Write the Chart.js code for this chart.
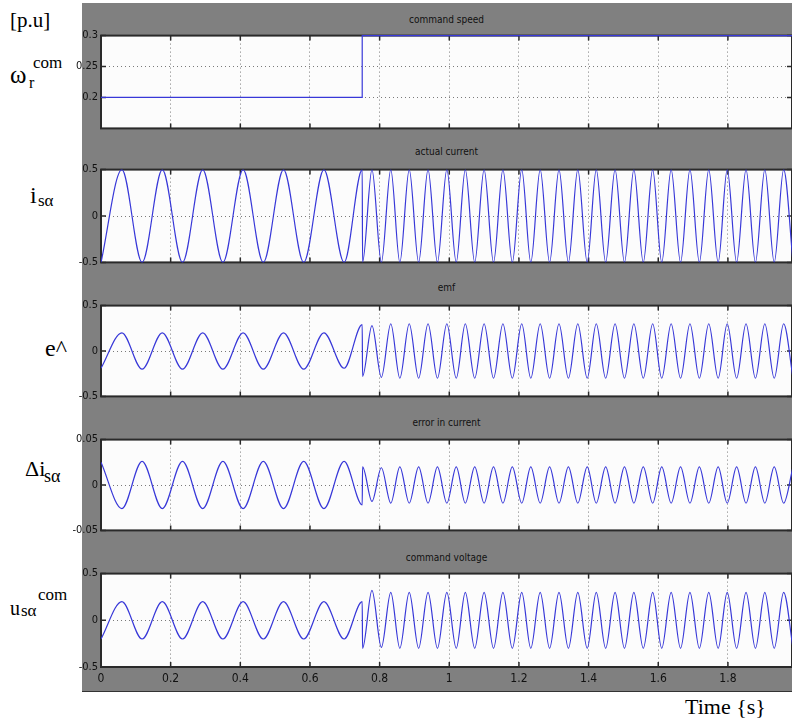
<!DOCTYPE html>
<html lang="en">
<head>
<meta charset="UTF-8">
<title>Scope traces</title>
<script src="https://cdn.jsdelivr.net/npm/chart.js"></script>
<style>
  body { margin: 0; width: 792px; height: 722px; position: relative; overflow: hidden; background: #fff; }
  #fig { position: absolute; left: 82px; top: 3px; width: 710px; height: 688px; background: #808080; border-bottom: 1px solid #333; }
  canvas { position: absolute; }
  .ttl { position: absolute; left: 101px; width: 691px; text-align: center; line-height: 12px;
         font: 10px 'Liberation Sans Narrow', 'DejaVu Sans Condensed', sans-serif; color: #111; }
  .lab { position: absolute; line-height: 1; white-space: nowrap; color: #000;
         font-family: 'Liberation Serif', 'Times New Roman', serif; }
</style>
</head>
<body>
<div id="fig"></div>

<!-- left hand labels -->
<span class="lab" style="left:10px;top:10px;font-size:21px">[p.u]</span>
<span class="lab" style="left:10px;top:62px;font-size:25px">ω</span>
<span class="lab" style="left:29px;top:75px;font-size:16px">r</span>
<span class="lab" style="left:33px;top:54px;font-size:17px">com</span>
<span class="lab" style="left:30px;top:183px;font-size:24px">i</span>
<span class="lab" style="left:38px;top:192px;font-size:17px">sα</span>
<span class="lab" style="left:45px;top:336px;font-size:24px">e^</span>
<span class="lab" style="left:25px;top:458px;font-size:22px">Δi</span>
<span class="lab" style="left:44px;top:467px;font-size:18px">sα</span>
<span class="lab" style="left:10px;top:598px;font-size:20px">u</span>
<span class="lab" style="left:21px;top:602px;font-size:17px">sα</span>
<span class="lab" style="left:38px;top:586px;font-size:17px">com</span>
<span class="lab" style="left:685px;top:696px;font-size:22px">Time {s}</span>

<script>
// ---- data ----
const xTicks = [0, 0.2, 0.4, 0.6, 0.8, 1, 1.2, 1.4, 1.6, 1.8];
const xMax = 1.984;

const titles = ['command speed', 'actual current', 'emf', 'error in current', 'command voltage'];

// speed command, step at 0.75 s
const tSpeed = [0, 0.75, 0.75, 1.99];
const speedCmd = [0.2, 0.2, 0.3, 0.3];

// times of the peaks / troughs of the waves (same for all four traces)
const tExt = [
  0, 0.060, 0.118, 0.176, 0.234, 0.292, 0.350, 0.408, 0.466, 0.524, 0.582, 0.640, 0.698, 0.750,
  0.751, 0.778, 0.805, 0.832, 0.858, 0.885, 0.912, 0.939, 0.966, 0.993,
  1.020, 1.046, 1.073, 1.100, 1.127, 1.154, 1.181, 1.208, 1.234, 1.261,
  1.288, 1.315, 1.342, 1.369, 1.396, 1.422, 1.449, 1.476, 1.503, 1.530,
  1.557, 1.584, 1.610, 1.637, 1.664, 1.691, 1.718, 1.745, 1.772, 1.798,
  1.825, 1.852, 1.879, 1.906, 1.933, 1.960, 1.987
];

const current = [
  -0.5, 0.5, -0.5, 0.5, -0.5, 0.5, -0.5, 0.5, -0.5, 0.5, -0.5, 0.5, -0.5, 0.5,
  -0.5, 0.5, -0.5, 0.5, -0.5, 0.5, -0.5, 0.5, -0.5, 0.5,
  -0.5, 0.5, -0.5, 0.5, -0.5, 0.5, -0.5, 0.5, -0.5, 0.5,
  -0.5, 0.5, -0.5, 0.5, -0.5, 0.5, -0.5, 0.5, -0.5, 0.5,
  -0.5, 0.5, -0.5, 0.5, -0.5, 0.5, -0.5, 0.5, -0.5, 0.5,
  -0.5, 0.5, -0.5, 0.5, -0.5, 0.5, -0.5
];

const emf = [
  -0.19, 0.2, -0.2, 0.2, -0.2, 0.2, -0.2, 0.2, -0.2, 0.2, -0.2, 0.2, -0.19, 0.29,
  -0.28, 0.28, -0.29, 0.3, -0.3, 0.3, -0.3, 0.3, -0.3, 0.3,
  -0.3, 0.3, -0.3, 0.3, -0.3, 0.3, -0.3, 0.3, -0.3, 0.3,
  -0.3, 0.3, -0.3, 0.3, -0.3, 0.3, -0.3, 0.3, -0.3, 0.3,
  -0.3, 0.3, -0.3, 0.3, -0.3, 0.3, -0.3, 0.3, -0.3, 0.3,
  -0.3, 0.3, -0.3, 0.3, -0.3, 0.3, -0.3
];

const errCur = [
  0.025, -0.026, 0.026, -0.026, 0.026, -0.026, 0.026, -0.026, 0.026, -0.026, 0.026, -0.026, 0.026, -0.022,
  0.02, -0.018, 0.019, -0.02, 0.02, -0.02, 0.02, -0.02, 0.02, -0.02,
  0.02, -0.02, 0.02, -0.02, 0.02, -0.02, 0.02, -0.02, 0.02, -0.02,
  0.02, -0.02, 0.02, -0.02, 0.02, -0.02, 0.02, -0.02, 0.02, -0.02,
  0.02, -0.02, 0.02, -0.02, 0.02, -0.02, 0.02, -0.02, 0.02, -0.02,
  0.02, -0.02, 0.02, -0.02, 0.02, -0.02, 0.02
];

const voltCmd = [
  -0.2, 0.2, -0.2, 0.2, -0.2, 0.2, -0.2, 0.2, -0.2, 0.2, -0.2, 0.2, -0.2, 0.2,
  -0.3, 0.32, -0.29, 0.3, -0.3, 0.3, -0.3, 0.3, -0.3, 0.3,
  -0.3, 0.3, -0.3, 0.3, -0.3, 0.3, -0.3, 0.3, -0.3, 0.3,
  -0.3, 0.3, -0.3, 0.3, -0.3, 0.3, -0.3, 0.3, -0.3, 0.3,
  -0.3, 0.3, -0.3, 0.3, -0.3, 0.3, -0.3, 0.3, -0.3, 0.3,
  -0.3, 0.3, -0.3, 0.3, -0.3, 0.3, -0.3
];

const yTicksSpeed = [0.2, 0.25, 0.3];
const yTicksHalf = [-0.5, 0, 0.5];
const yTicksErr = [-0.05, 0, 0.05];

// ---- layout of the five scope windows ----
const panels = [
  { t: tSpeed, v: speedCmd, min: 0.15, max: 0.3, ticks: yTicksSpeed, top: 34, h: 96, smooth: false },
  { t: tExt, v: current, min: -0.5, max: 0.5, ticks: yTicksHalf, top: 168, h: 96, smooth: true },
  { t: tExt, v: emf, min: -0.5, max: 0.5, ticks: yTicksHalf, top: 304, h: 94, smooth: true },
  { t: tExt, v: errCur, min: -0.05, max: 0.05, ticks: yTicksErr, top: 438, h: 94, smooth: true },
  { t: tExt, v: voltCmd, min: -0.5, max: 0.5, ticks: yTicksHalf, top: 572, h: 95, smooth: true }
];
const titleTops = [14, 146, 282, 417, 552];

const PAD = 8;        // room above/below plot for the tick labels
const XAXIS_H = 22;   // height of the time axis on the last window
const narrow = "'Liberation Sans Narrow', 'DejaVu Sans Condensed', sans-serif";

// white plot area, black frame and inward tick marks like the scope window
const scopeFrame = {
  id: 'scopeFrame',
  beforeDraw(chart) {
    const { ctx, chartArea: a } = chart;
    ctx.save();
    ctx.fillStyle = '#fcfcfc';
    ctx.fillRect(a.left, a.top, a.width, a.height);
    ctx.restore();
  },
  beforeDatasetsDraw(chart) {
    const { ctx, chartArea: a, scales: { x, y } } = chart;
    ctx.save();
    ctx.strokeStyle = '#2a2a2a';
    ctx.lineWidth = 1.5;
    ctx.beginPath();
    x.ticks.forEach(tk => {
      const px = x.getPixelForValue(tk.value);
      ctx.moveTo(px, a.top); ctx.lineTo(px, a.top + 5);
      ctx.moveTo(px, a.bottom); ctx.lineTo(px, a.bottom - 5);
    });
    y.ticks.forEach(tk => {
      const py = y.getPixelForValue(tk.value);
      ctx.moveTo(a.left, py); ctx.lineTo(a.left + 5, py);
      ctx.moveTo(a.right, py); ctx.lineTo(a.right - 5, py);
    });
    ctx.stroke();
    ctx.lineWidth = 2;
    ctx.strokeRect(a.left, a.top, a.width, a.height);
    ctx.restore();
  }
};

panels.forEach((p, i) => {
  const last = i === panels.length - 1;

  const ttl = document.createElement('div');
  ttl.className = 'ttl';
  ttl.style.top = titleTops[i] + 'px';
  ttl.textContent = titles[i];
  document.body.appendChild(ttl);

  const cv = document.createElement('canvas');
  cv.width = 720;
  cv.height = PAD + p.h + (last ? XAXIS_H : PAD);
  cv.style.left = '72px';
  cv.style.top = (p.top - PAD) + 'px';
  document.body.appendChild(cv);

  new Chart(cv, {
    type: 'line',
    data: {
      datasets: [{
        data: p.t.map((t, k) => ({ x: t, y: p.v[k] })),
        borderColor: '#3838d8',
        borderWidth: 1.2,
        pointRadius: 0,
        fill: false,
        cubicInterpolationMode: p.smooth ? 'monotone' : 'default',
        tension: 0,
        clip: p.smooth ? 0 : 3
      }]
    },
    options: {
      responsive: false,
      animation: false,
      events: [],
      layout: { padding: { top: PAD, bottom: last ? 0 : PAD, left: 0, right: 0 } },
      plugins: { legend: { display: false }, tooltip: { enabled: false } },
      scales: {
        x: {
          type: 'linear',
          min: 0,
          max: xMax,
          afterBuildTicks: s => { s.ticks = xTicks.map(v => ({ value: v })); },
          afterFit: s => { s.height = last ? XAXIS_H : 0; },
          grid: { color: '#7a7a7a', lineWidth: 1, drawTicks: false },
          border: { display: false, dash: [1, 3] },
          ticks: {
            display: last,
            padding: 5,
            color: '#111',
            font: { family: narrow, size: 12 },
            maxRotation: 0,
            autoSkip: false,
            callback: v => String(v)
          }
        },
        y: {
          type: 'linear',
          min: p.min,
          max: p.max,
          afterBuildTicks: s => { s.ticks = p.ticks.map(v => ({ value: v })); },
          afterFit: s => { s.width = 29; },
          grid: { color: '#7a7a7a', lineWidth: 1, drawTicks: false },
          border: { display: false, dash: [1, 3] },
          ticks: {
            padding: 3,
            color: '#111',
            font: { family: narrow, size: 11 },
            autoSkip: false,
            callback: v => String(v)
          }
        }
      }
    },
    plugins: [scopeFrame]
  });
});
</script>
</body>
</html>
